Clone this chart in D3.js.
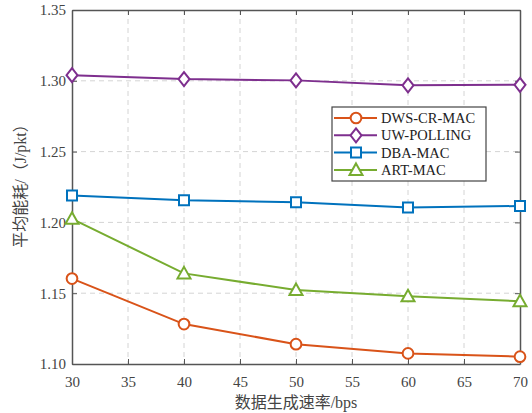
<!DOCTYPE html>
<html>
<head>
<meta charset="utf-8">
<script src="https://cdn.jsdelivr.net/npm/d3@7/dist/d3.min.js"></script>
<style>
  body { margin: 0; background: #fff; }
  svg { display: block; }
</style>
</head>
<body>
<div id="chart"></div>
<script>
var rates = [30, 40, 50, 60, 70];
var dwsCrMac = [1.1603, 1.1282, 1.1140, 1.1075, 1.1052];
var uwPolling = [1.3040, 1.3012, 1.3003, 1.2968, 1.2972];
var dbaMac = [1.2190, 1.2157, 1.2143, 1.2106, 1.2116];
var artMac = [1.2025, 1.1640, 1.1522, 1.1478, 1.1443];
var seriesNames = ["DWS-CR-MAC", "UW-POLLING", "DBA-MAC", "ART-MAC"];
var xTicks = [30, 35, 40, 45, 50, 55, 60, 65, 70];
var yTicks = [1.10, 1.15, 1.20, 1.25, 1.30, 1.35];

var series = [
    {name: seriesNames[0], values: dwsCrMac, color: "#D95319", marker: "circle"},
    {name: seriesNames[1], values: uwPolling, color: "#7E2F8E", marker: "diamond"},
    {name: seriesNames[2], values: dbaMac, color: "#0072BD", marker: "square"},
    {name: seriesNames[3], values: artMac, color: "#77AC30", marker: "triangle"}
];

var width = 532, height = 413;
var mLeft = 72, mRight = 520, mTop = 10, mBottom = 364;
var serif = "'Liberation Serif', 'Times New Roman', serif";

var svg = d3.select("#chart").append("svg")
    .attr("width", width)
    .attr("height", height);

var x = d3.scaleLinear().domain([30, 70]).range([mLeft, mRight]);
var y = d3.scaleLinear().domain([1.10, 1.35]).range([mBottom, mTop]);

// grid
svg.append("g")
    .selectAll("line")
    .data(xTicks.slice(1, -1))
    .enter().append("line")
    .attr("x1", function (d) { return x(d); })
    .attr("x2", function (d) { return x(d); })
    .attr("y1", mTop).attr("y2", mBottom)
    .attr("stroke", "#d4d4d4").attr("stroke-width", 1)
    .attr("stroke-dasharray", "5,4");

svg.append("g")
    .selectAll("line")
    .data(yTicks.slice(1, -1))
    .enter().append("line")
    .attr("y1", function (d) { return y(d); })
    .attr("y2", function (d) { return y(d); })
    .attr("x1", mLeft).attr("x2", mRight)
    .attr("stroke", "#d4d4d4").attr("stroke-width", 1)
    .attr("stroke-dasharray", "5,4");

// axes (ticks inward, box on)
var axisColor = "#555";
var xAxis = svg.append("g")
    .attr("transform", "translate(0," + mBottom + ")")
    .call(d3.axisBottom(x).tickValues(xTicks).tickSizeInner(-5).tickSizeOuter(0).tickPadding(12));
var yAxis = svg.append("g")
    .attr("transform", "translate(" + mLeft + ",0)")
    .call(d3.axisLeft(y).tickValues(yTicks).tickFormat(d3.format(".2f")).tickSizeInner(-5).tickSizeOuter(0).tickPadding(6));
var xTop = svg.append("g")
    .attr("transform", "translate(0," + mTop + ")")
    .call(d3.axisTop(x).tickValues(xTicks).tickSizeInner(-5).tickSizeOuter(0).tickFormat(""));
var yRight = svg.append("g")
    .attr("transform", "translate(" + mRight + ",0)")
    .call(d3.axisRight(y).tickValues(yTicks).tickSizeInner(-5).tickSizeOuter(0).tickFormat(""));

[xAxis, yAxis, xTop, yRight].forEach(function (g) {
    g.attr("font-family", serif).attr("font-size", 15);
    g.select(".domain").attr("stroke", axisColor).attr("stroke-width", 1.5);
    g.selectAll(".tick line").attr("stroke", axisColor).attr("stroke-width", 1);
    g.selectAll(".tick text").attr("fill", "#444");
});

// lines
var line = d3.line()
    .x(function (d, i) { return x(rates[i]); })
    .y(function (d) { return y(d); });

function markerPath(type) {
    if (type === "circle") return d3.symbol().type(d3.symbolCircle).size(90)();
    if (type === "diamond") return "M0,-7L5.5,0L0,7L-5.5,0Z";
    if (type === "square") return "M-5,-5L5,-5L5,5L-5,5Z";
    return "M0,-6.5L6.5,5L-6.5,5Z";
}

series.forEach(function (s) {
    svg.append("path")
        .datum(s.values)
        .attr("d", line)
        .attr("fill", "none")
        .attr("stroke", s.color)
        .attr("stroke-width", 2);
    svg.append("g")
        .selectAll("path")
        .data(s.values)
        .enter().append("path")
        .attr("d", markerPath(s.marker))
        .attr("transform", function (d, i) { return "translate(" + x(rates[i]) + "," + y(d) + ")"; })
        .attr("fill", "#fff")
        .attr("stroke", s.color)
        .attr("stroke-width", 2);
});

// legend
var legend = svg.append("g").attr("transform", "translate(332,107)");
legend.append("rect")
    .attr("width", 154).attr("height", 74)
    .attr("fill", "#fff").attr("stroke", "#444").attr("stroke-width", 1.2);
series.forEach(function (s, i) {
    var ly = 11 + i * 17.3;
    legend.append("line")
        .attr("x1", 2).attr("x2", 45).attr("y1", ly).attr("y2", ly)
        .attr("stroke", s.color).attr("stroke-width", 2);
    legend.append("path")
        .attr("d", markerPath(s.marker))
        .attr("transform", "translate(24," + ly + ")")
        .attr("fill", "#fff").attr("stroke", s.color).attr("stroke-width", 2);
    legend.append("text")
        .attr("x", 49).attr("y", ly)
        .attr("dy", "0.35em")
        .attr("font-family", serif)
        .attr("font-size", "14.5px")
        .attr("fill", "#222")
        .text(s.name);
});

// axis labels
svg.append("text")
    .attr("x", 296).attr("y", 402)
    .attr("dy", "0.35em")
    .attr("text-anchor", "middle")
    .attr("font-family", "'Liberation Serif', 'Noto Sans CJK SC', serif")
    .attr("font-size", "16px")
    .attr("fill", "#444")
    .text("数据生成速率/bps");

svg.append("text")
    .attr("transform", "translate(20,182) rotate(-90)")
    .attr("dy", "0.35em")
    .attr("text-anchor", "middle")
    .attr("font-family", "'Liberation Serif', 'Noto Sans CJK SC', serif")
    .attr("font-size", "16px")
    .attr("fill", "#444")
    .text("平均能耗/（J/pkt）");
</script>
</body>
</html>
